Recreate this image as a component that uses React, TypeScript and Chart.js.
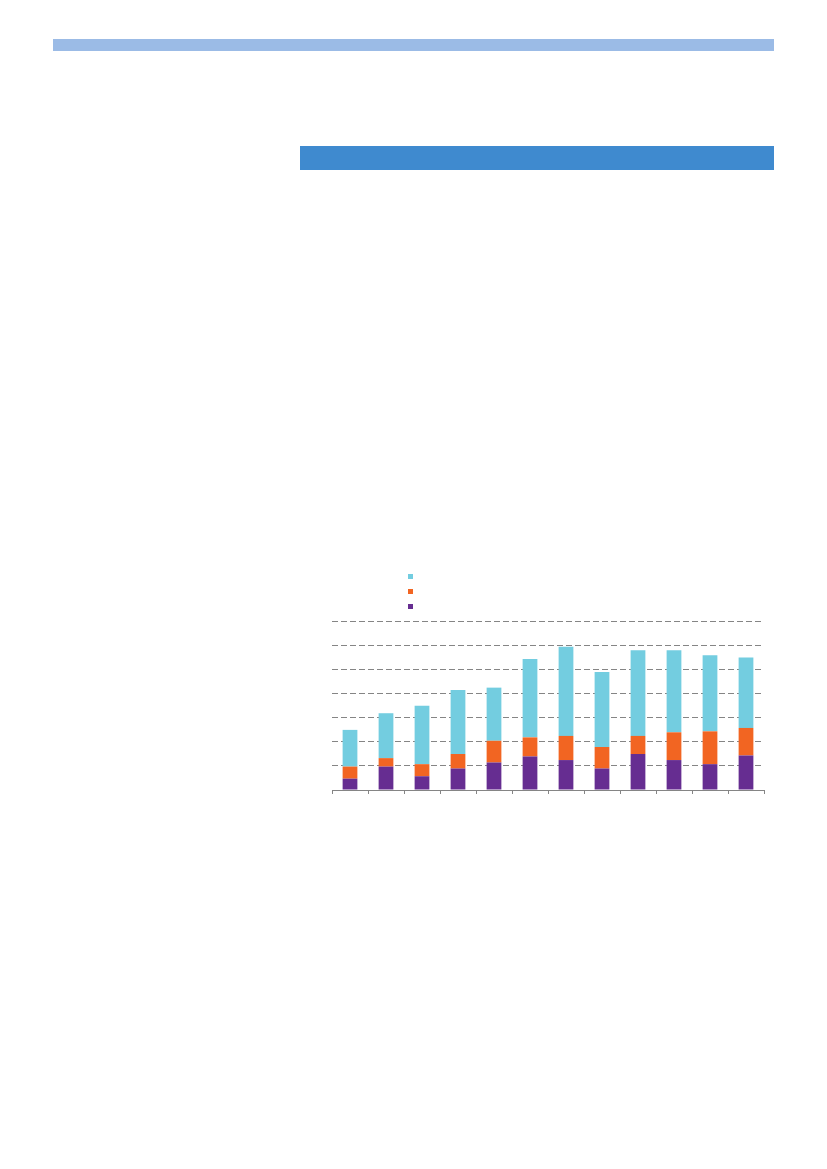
import { useEffect, useRef } from 'react';
import { Chart, registerables } from 'chart.js';

Chart.register(...registerables);

// the reference shows no text, so categories are plain positions
const categories = ['1', '2', '3', '4', '5', '6', '7', '8', '9', '10', '11', '12'];
const purpleValues = [4.7, 9.7, 5.7, 8.9, 11.4, 13.9, 12.4, 8.9, 14.9, 12.4, 10.7, 14.3];
const orangeValues = [5.0, 3.5, 5.0, 6.0, 9.0, 7.9, 10.0, 8.9, 7.5, 11.5, 13.6, 11.4];
const cyanValues = [15.2, 18.6, 24.2, 26.5, 22.0, 32.5, 36.9, 31.1, 35.5, 34.0, 31.5, 29.2];
const yTicks = [0, 10, 20, 30, 40, 50, 60, 70];

const PURPLE = '#662d91';
const ORANGE = '#f26522';
const CYAN = '#73cde0';
const GRID = '#858585';

const legendItems = [CYAN, ORANGE, PURPLE];

function StackedBars() {
  const canvasRef = useRef<HTMLCanvasElement>(null);
  const chartRef = useRef<Chart | null>(null);

  useEffect(() => {
    if (!canvasRef.current) return;
    if (chartRef.current) chartRef.current.destroy();

    chartRef.current = new Chart(canvasRef.current, {
      type: 'bar',
      data: {
        labels: categories,
        datasets: [
          { label: 'a', data: purpleValues, backgroundColor: PURPLE },
          { label: 'b', data: orangeValues, backgroundColor: ORANGE },
          { label: 'c', data: cyanValues, backgroundColor: CYAN },
        ],
      },
      options: {
        animation: false,
        responsive: true,
        maintainAspectRatio: false,
        datasets: { bar: { barPercentage: 0.41, categoryPercentage: 1 } },
        layout: { padding: { top: 9, right: 6, left: 0, bottom: 0 } },
        plugins: { legend: { display: false }, tooltip: { enabled: false } },
        scales: {
          x: {
            stacked: true,
            ticks: { display: false },
            grid: { drawOnChartArea: false, drawTicks: true, tickLength: 4, color: GRID, offset: true },
            border: { display: true, color: GRID, width: 1 },
          },
          y: {
            stacked: true,
            min: yTicks[0],
            max: yTicks[yTicks.length - 1],
            afterBuildTicks: (axis) => { axis.ticks = yTicks.map((v) => ({ value: v })); },
            afterFit: (axis) => { axis.width = 0; },
            ticks: { display: false },
            grid: { color: GRID, lineWidth: 1, drawTicks: false },
            border: { display: false, dash: [6, 3] },
          },
        },
      },
    });

    return () => chartRef.current?.destroy();
  }, []);

  return <canvas ref={canvasRef} />;
}

export default function App() {
  return (
    <div style={{ position: 'absolute', left: 0, top: 0, width: 827, height: 1169, background: '#fff' }}>
      <div style={{ position: 'absolute', left: 53, top: 39, width: 721, height: 12, background: '#9bbbe6' }} />
      <div style={{ position: 'absolute', left: 300, top: 146, width: 474, height: 24, background: '#3f8acf' }} />
      {legendItems.map((c, i) => (
        <div
          key={c}
          style={{ position: 'absolute', left: 408, top: 574 + i * 15, width: 5, height: 5, background: c }}
        />
      ))}
      <div style={{ position: 'absolute', left: 332, top: 612, width: 438, height: 182 }}>
        <StackedBars />
      </div>
    </div>
  );
}
